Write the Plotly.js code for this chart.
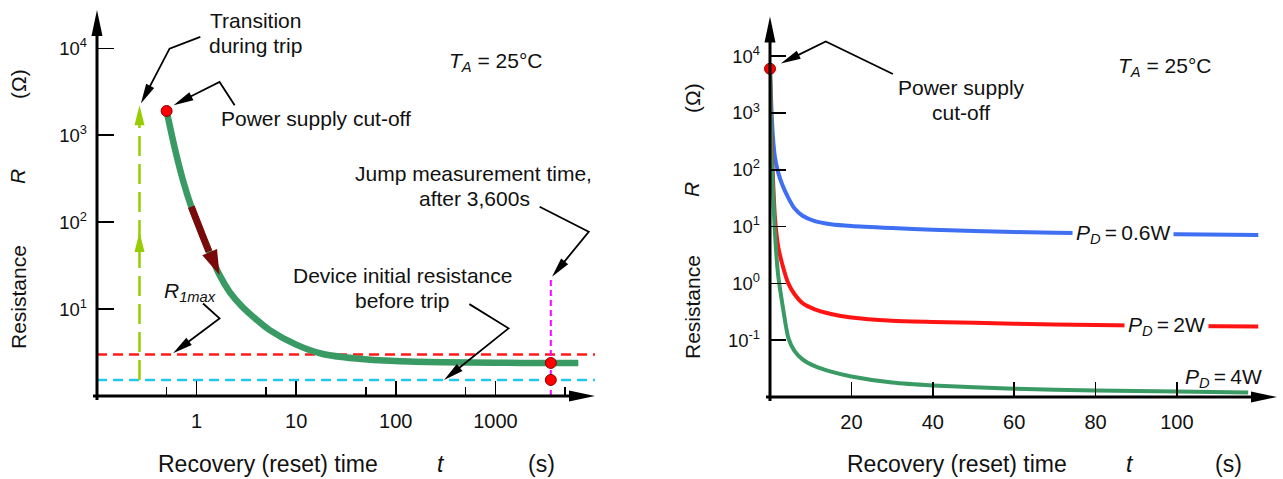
<!DOCTYPE html>
<html><head><meta charset="utf-8">
<script src="https://cdn.plot.ly/plotly-3.0.1.min.js"></script>
<style>html,body{margin:0;padding:0;background:#fff}#chart{width:1283px;height:479px}</style>
</head><body><div id="chart"></div>
<script>
// ---------- Data: left panel (single trip, log-log) ----------
const tripTime = [0.5, 0.6, 0.73, 0.885, 1.16, 1.7, 2.15, 2.84, 3.83, 5.42, 10, 18.5, 40, 100, 300, 1000, 3600, 6800];
const tripR    = [1900, 733, 303, 150, 68, 24.6, 15.7, 10.8, 7.88, 5.73, 3.9, 3.04, 2.7, 2.52, 2.44, 2.41, 2.40, 2.40];
const decayArrowTime = [0.885, 1.0, 1.16, 1.33];
const decayArrowR    = [150, 105, 68, 46];
const cutoffPoint = {t: 0.5, R: 1900};
const jumpTime = 3600;
const jumpR = 2.40;
const initialR = 1.53;
const r1max = 3.0;
const tripTransitionTime = 0.267;
const tripTransitionTopR = 2213;
const tripTransitionMidR = 77;
const jumpMarkerTopR = 23.5;
const leftXTicks = [1, 10, 100, 1000];
const leftXTickText = ['1', '10', '100', '1000'];
const leftXMinor = [0.5, 5, 50, 500, 5000];
const leftYTicks = [10, 100, 1000, 10000];
const leftYTickText = ['10<sup>1</sup>', '10<sup>2</sup>', '10<sup>3</sup>', '10<sup>4</sup>'];

// ---------- Data: right panel (recovery vs dissipated power) ----------
const recT      = [0, 0.3, 0.7, 1.2, 2, 3, 4.5, 6, 8, 11, 15, 20, 30, 40, 60, 80, 100, 120];
const rPd06     = [6000, 1500, 400, 170, 90, 55, 32, 21, 15.5, 12.5, 11, 10.2, 9.4, 8.8, 8.0, 7.6, 7.3, 7.1];
const rPd2      = [6000, 500, 80, 15, 4.5, 2.2, 1.0, 0.65, 0.45, 0.35, 0.29, 0.25, 0.22, 0.21, 0.195, 0.185, 0.178, 0.175];
const recT4     = [0, 0.3, 0.7, 1.2, 2, 3, 4.5, 6, 8, 11, 15, 20, 30, 40, 60, 80, 100, 117.5];
const rPd4      = [6000, 250, 50, 8, 1.4, 0.45, 0.11, 0.065, 0.046, 0.035, 0.028, 0.023, 0.018, 0.016, 0.014, 0.013, 0.0125, 0.012];
const seriesLabels = ['<i>P<sub>D</sub></i>\u2009=\u20090.6W', '<i>P<sub>D</sub></i>\u2009=\u20092W', '<i>P<sub>D</sub></i>\u2009=\u20094W'];
const rightCutoff = {t: 0, R: 6000};
const rightXTicks = [20, 40, 60, 80, 100];
const rightYTicks = [0.1, 1, 10, 100, 1000, 10000];
const rightYTickText = ['10<sup>-1</sup>', '10<sup>0</sup>', '10<sup>1</sup>', '10<sup>2</sup>', '10<sup>3</sup>', '10<sup>4</sup>'];

// ---------- Geometry ----------
const W = 1283, H = 479;
const LX = {d: [97 / W, 595 / W], r: [-1, 4], log: true};
const LY = {d: [1 - 396 / H, 1 - 10 / H], r: [0, 4.44], log: true};
const RX = {d: [770 / W, 1277 / W], r: [0, 124.6], log: false};
const RY = {d: [1 - 397 / H, 1 - 16.4 / H], r: [-2, 4.7], log: true};
const LEFT = {x: LX, y: LY}, RIGHT = {x: RX, y: RY};

function toPx(ax, x, y) {
  const fx = ax.x.log ? Math.log10(x) : x;
  const fy = ax.y.log ? Math.log10(y) : y;
  const X = (ax.x.d[0] + (fx - ax.x.r[0]) / (ax.x.r[1] - ax.x.r[0]) * (ax.x.d[1] - ax.x.d[0])) * W;
  const Y = (1 - (ax.y.d[0] + (fy - ax.y.r[0]) / (ax.y.r[1] - ax.y.r[0]) * (ax.y.d[1] - ax.y.d[0]))) * H;
  return [X, Y];
}
function P(p) { return (p[0] / W).toFixed(5) + ',' + (1 - p[1] / H).toFixed(5); }
function polyShape(pix, color, width) {
  return {type: 'path', xref: 'paper', yref: 'paper', path: 'M' + pix.map(P).join('L'),
          line: {color: color, width: width}, layer: 'above'};
}
function headShape(from, tip, len, wid, color) {
  const dx = tip[0] - from[0], dy = tip[1] - from[1], L = Math.hypot(dx, dy);
  const ux = dx / L, uy = dy / L, nx = -uy, ny = ux;
  const b = [tip[0] - ux * len, tip[1] - uy * len];
  const p1 = [b[0] + nx * wid / 2, b[1] + ny * wid / 2];
  const p2 = [b[0] - nx * wid / 2, b[1] - ny * wid / 2];
  return {type: 'path', xref: 'paper', yref: 'paper', path: 'M' + P(tip) + 'L' + P(p1) + 'L' + P(p2) + 'Z',
          fillcolor: color, line: {width: 0}, layer: 'above'};
}
function pointer(ax, pts, len, wid) {
  len = len || 20; wid = wid || 9;
  const pix = pts.map(p => toPx(ax, p[0], p[1]));
  const tip = pix[pix.length - 1], prev = pix[pix.length - 2];
  const dx = tip[0] - prev[0], dy = tip[1] - prev[1], L = Math.hypot(dx, dy);
  const base = [tip[0] - dx / L * (len - 2), tip[1] - dy / L * (len - 2)];
  const linePts = pix.slice(0, -1).concat([base]);
  return [polyShape(linePts, '#000', 1.8), headShape(prev, tip, len, wid, '#000')];
}
function axisArrow(ax, from, tip) {
  const a = toPx(ax, from[0], from[1]), b = toPx(ax, tip[0], tip[1]);
  const dx = b[0] - a[0], dy = b[1] - a[1], L = Math.hypot(dx, dy);
  const start = [a[0] - dx / L * 4, a[1] - dy / L * 4];
  const base = [b[0] - dx / L * 22, b[1] - dy / L * 22];
  return [polyShape([start, base], '#000', 3), headShape(a, b, 26, 11, '#000')];
}

const FONT = '"Liberation Sans", Arial, sans-serif';
const GREEN = '#3a9a64', DARKRED = '#7a0a0a', BLUE = '#3f6ff2', RED = '#ff1414';
const CYAN = '#22c8f0', LIME = '#99cc00', MAGENTA = '#ff00ff';

// ---------- Traces ----------
const traces = [
  {x: [0.1, 10000], y: [initialR, initialR], xaxis: 'x', yaxis: 'y', mode: 'lines',
   line: {color: CYAN, width: 2.5, dash: '10px,6px'}},
  {x: [0.1, 10000], y: [r1max, r1max], xaxis: 'x', yaxis: 'y', mode: 'lines',
   line: {color: '#ff1a1a', width: 2.5, dash: '10px,6px'}},
  {x: [tripTransitionTime, tripTransitionTime], y: [initialR, tripTransitionTopR * 0.72], xaxis: 'x', yaxis: 'y', mode: 'lines',
   line: {color: LIME, width: 2.5, dash: '20px,8px'}},
  {x: [jumpTime, jumpTime], y: [1, jumpMarkerTopR], xaxis: 'x', yaxis: 'y', mode: 'lines',
   line: {color: MAGENTA, width: 2, dash: '6px,4px'}, cliponaxis: false},
  {x: tripTime, y: tripR, xaxis: 'x', yaxis: 'y', mode: 'lines',
   line: {color: GREEN, width: 6.5, shape: 'spline', smoothing: 0.8}},
  {x: decayArrowTime, y: decayArrowR, xaxis: 'x', yaxis: 'y', mode: 'lines',
   line: {color: DARKRED, width: 7, shape: 'spline', smoothing: 0.8}},
  {x: [cutoffPoint.t, jumpTime, jumpTime], y: [cutoffPoint.R, jumpR, initialR], xaxis: 'x', yaxis: 'y', mode: 'markers',
   marker: {color: '#ff0000', size: 11, line: {color: '#8a0000', width: 1}}, cliponaxis: false},

  {x: recT, y: rPd06, xaxis: 'x2', yaxis: 'y2', mode: 'lines', name: seriesLabels[0],
   line: {color: BLUE, width: 4, shape: 'spline', smoothing: 0.6}},
  {x: recT, y: rPd2, xaxis: 'x2', yaxis: 'y2', mode: 'lines', name: seriesLabels[1],
   line: {color: RED, width: 4, shape: 'spline', smoothing: 0.6}},
  {x: recT4, y: rPd4, xaxis: 'x2', yaxis: 'y2', mode: 'lines', name: seriesLabels[2],
   line: {color: GREEN, width: 4, shape: 'spline', smoothing: 0.6}},
  {x: [rightCutoff.t], y: [rightCutoff.R], xaxis: 'x2', yaxis: 'y2', mode: 'markers',
   marker: {color: '#ff0000', size: 11, line: {color: '#8a0000', width: 1}}, cliponaxis: false}
];

// ---------- Shapes (axis arrows, pointers) ----------
let shapes = [];
shapes = shapes.concat(axisArrow(LEFT, [0.1, 1], [1e4, 1]));
shapes = shapes.concat(axisArrow(LEFT, [0.1, 1], [0.1, Math.pow(10, 4.44)]));
shapes = shapes.concat(axisArrow(RIGHT, [0, 0.01], [124.6, 0.01]));
shapes = shapes.concat(axisArrow(RIGHT, [0, 0.01], [0, Math.pow(10, 4.7)]));
// decay direction arrow head
shapes.push(headShape(toPx(LEFT, 1.16, 68), toPx(LEFT, 1.7, 24.6), 25, 16, DARKRED));
// trip transition arrow heads
shapes.push(headShape(toPx(LEFT, tripTransitionTime, initialR), toPx(LEFT, tripTransitionTime, tripTransitionTopR), 20, 10, LIME));
shapes.push(headShape(toPx(LEFT, tripTransitionTime, initialR), toPx(LEFT, tripTransitionTime, tripTransitionMidR), 20, 10, LIME));
// pointers
shapes = shapes.concat(pointer(LEFT, [[1.09, 13500], [0.535, 9900], [0.276, 2310]]));
shapes = shapes.concat(pointer(LEFT, [[2.41, 2213], [1.70, 4100], [0.587, 2213]]));
shapes = shapes.concat(pointer(LEFT, [[2780, 150], [8650, 77.4], [3700, 23.5]]));
shapes = shapes.concat(pointer(LEFT, [[548, 11.4], [1355, 6.0], [305, 1.53]]));
shapes = shapes.concat(pointer(LEFT, [[1.16, 11.6], [1.70, 7.8], [0.58, 3.1]]));
shapes = shapes.concat(pointer(RIGHT, [[30.2, 4860], [13.7, 18200], [2.66, 7400]]));

// ---------- Annotations ----------
function txt(text, x, y, size, extra) {
  return Object.assign({text: text, xref: 'paper', yref: 'paper', x: x / W, y: 1 - y / H,
    xanchor: 'center', yanchor: 'middle', showarrow: false,
    font: {family: FONT, size: size || 21, color: '#111'}}, extra || {});
}
const annotations = [
  txt('Transition', 255, 21), txt('during trip', 255, 45),
  txt('Power supply cut-off', 316, 118),
  txt('<i>T<sub>A</sub></i> = 25°C', 495, 62),
  txt('Jump measurement time,', 473, 173), txt('after 3,600s', 474, 198),
  txt('Device initial resistance', 402, 275), txt('before trip', 402, 300),
  txt('<i>R<sub>1max</sub></i>', 190, 292),
  txt('Power supply', 962, 88), txt('cut-off', 961, 112),
  txt('<i>T<sub>A</sub></i> = 25°C', 1164, 67),
  // axis titles
  txt('Recovery (reset) time', 268, 464, 23), txt('<i>t</i>', 441, 464, 23), txt('(s)', 541, 464, 23),
  txt('Recovery (reset) time', 957, 464, 23), txt('<i>t</i>', 1130, 464, 23), txt('(s)', 1228, 464, 23),
  txt('Resistance', 18, 297, 21, {textangle: -90}), txt('<i>R</i>', 18, 177, 21, {textangle: -90}), txt('(Ω)', 18, 84, 21, {textangle: -90}),
  txt('Resistance', 692, 307, 21, {textangle: -90}), txt('<i>R</i>', 692, 190, 21, {textangle: -90}), txt('(Ω)', 692, 98, 21, {textangle: -90}),
  // series labels (right panel)
  {text: seriesLabels[0], xref: 'x2', yref: 'y2', x: 86.7, y: Math.log10(7.55), showarrow: false,
   bgcolor: '#fff', borderpad: 3, font: {family: FONT, size: 21, color: '#111'}},
  {text: seriesLabels[1], xref: 'x2', yref: 'y2', x: 97.5, y: Math.log10(0.18), showarrow: false,
   bgcolor: '#fff', borderpad: 3, font: {family: FONT, size: 21, color: '#111'}},
  {text: seriesLabels[2], xref: 'x2', yref: 'y2', x: 111.5, y: Math.log10(0.0216), showarrow: false,
   font: {family: FONT, size: 21, color: '#111'}}
];

const xTickFont = {family: FONT, size: 20, color: '#111'};
const yTickFont = {family: FONT, size: 18.5, color: '#111'};
const baseAxis = {showgrid: false, zeroline: false, showline: false, ticks: 'inside', tickcolor: '#000',
  tickwidth: 1.5, fixedrange: true};

const layout = {
  width: W, height: H, margin: {l: 0, r: 0, t: 0, b: 0},
  paper_bgcolor: '#fff', plot_bgcolor: 'rgba(0,0,0,0)', showlegend: false,
  xaxis: Object.assign({}, baseAxis, {domain: LX.d, range: LX.r, type: 'log', anchor: 'y', tickfont: xTickFont,
    tickmode: 'array', tickvals: leftXTicks, ticktext: leftXTickText, ticklen: 15, ticklabelstandoff: 11,
    minor: {tickmode: 'array', tickvals: leftXMinor, ticks: 'inside', ticklen: 9, tickwidth: 1.5, tickcolor: '#000'}}),
  yaxis: Object.assign({}, baseAxis, {domain: LY.d, range: LY.r, type: 'log', anchor: 'x', tickfont: yTickFont,
    tickmode: 'array', tickvals: leftYTicks, ticktext: leftYTickText, ticklen: 17, ticklabelstandoff: 9}),
  xaxis2: Object.assign({}, baseAxis, {domain: RX.d, range: RX.r, type: 'linear', anchor: 'y2', tickfont: xTickFont,
    tickmode: 'array', tickvals: rightXTicks, ticklen: 15, ticklabelstandoff: 11}),
  yaxis2: Object.assign({}, baseAxis, {domain: RY.d, range: RY.r, type: 'log', anchor: 'x2', tickfont: yTickFont,
    tickmode: 'array', tickvals: rightYTicks, ticktext: rightYTickText, ticklen: 16, ticklabelstandoff: 9}),
  shapes: shapes,
  annotations: annotations
};

Plotly.newPlot('chart', traces, layout, {staticPlot: true, displayModeBar: false});
</script>
</body></html>
